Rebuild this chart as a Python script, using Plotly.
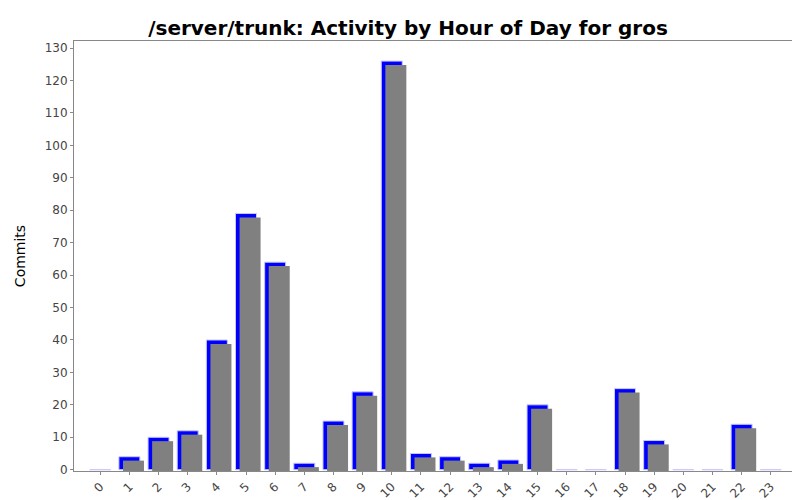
import plotly.graph_objects as go

HOURS = [str(h) for h in range(24)]
COMMITS = [0, 4, 10, 12, 40, 79, 64, 2, 15, 24, 126, 5, 4, 2, 3, 20, 0, 0, 25, 9, 0, 0, 14, 0]

X_MIN, X_MAX = -0.9, 23.9
Y_MIN, Y_MAX = -0.4, 132.2
X_SHIFT = 0.14  # shadow offset to the right, category units
Y_SHIFT = 1.2   # shadow drop, data units

fig = go.Figure()
# shadow
fig.add_trace(go.Bar(
    x=HOURS, y=COMMITS, xaxis="x2", yaxis="y2",
    marker=dict(color="#808080", line=dict(width=0)),
    width=0.72, hoverinfo="skip", showlegend=False,
))
# main bars
fig.add_trace(go.Bar(
    x=HOURS, y=COMMITS,
    marker=dict(color="#0000ff", line=dict(color="#c8c8ff", width=1)),
    width=0.72, showlegend=False,
))

fig.update_layout(
    width=800, height=500,
    margin=dict(l=66, r=11, t=33, b=37),
    paper_bgcolor="white", plot_bgcolor="white",
    font=dict(family="DejaVu Sans", size=12, color="#444"),
    title=dict(text="<b>/server/trunk: Activity by Hour of Day for gros</b>",
               x=0.5, y=0.975, xanchor="center",
               font=dict(size=20, color="black")),
    barmode="overlay",
    xaxis=dict(tickangle=-45, showgrid=False, ticks="outside",
               ticklen=3, tickcolor="#888", showline=True, linecolor="#888",
               mirror=True, automargin=False, range=[X_MIN, X_MAX],
               tickfont=dict(size=12)),
    xaxis2=dict(overlaying="x", range=[X_MIN - X_SHIFT, X_MAX - X_SHIFT],
                visible=False, anchor="y2"),
    yaxis=dict(range=[Y_MIN, Y_MAX], dtick=10, showgrid=False, ticks="outside",
               ticklen=3, tickcolor="#888", showline=True, linecolor="#888",
               mirror=True, zeroline=False, automargin=False,
               title=dict(text="Commits", font=dict(size=14, color="black"))),
    yaxis2=dict(range=[Y_MIN + Y_SHIFT, Y_MAX + Y_SHIFT], overlaying="y",
                visible=False, anchor="x2"),
)

fig.write_html("out.html")
